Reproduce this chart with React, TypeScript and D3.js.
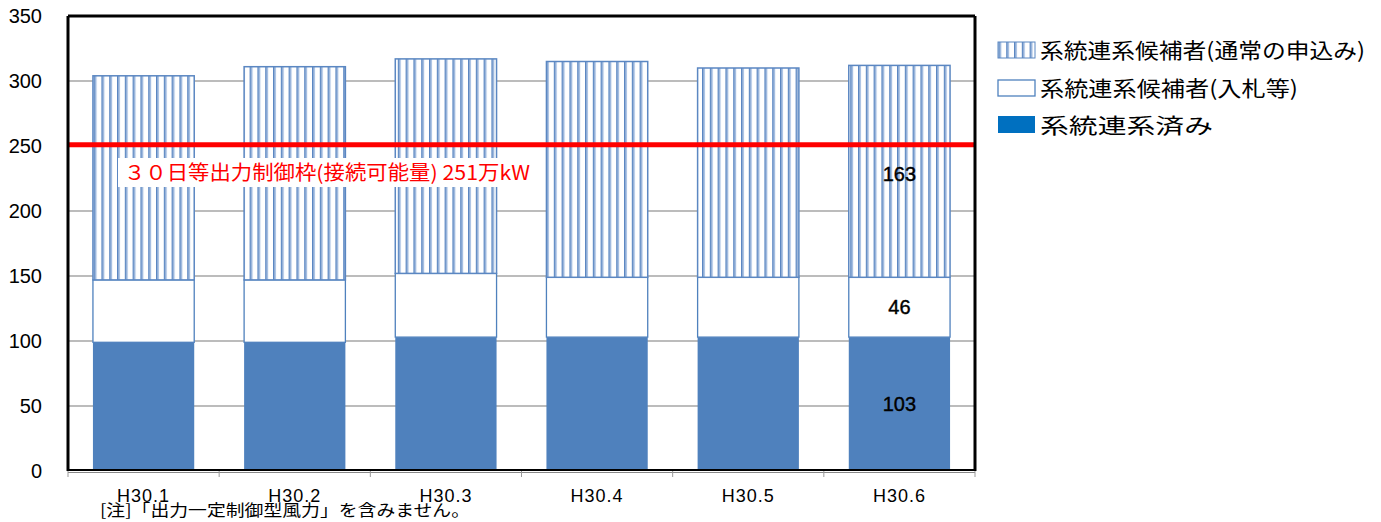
import React from "react";
import * as d3 from "d3";

const categories = ["H30.1", "H30.2", "H30.3", "H30.4", "H30.5", "H30.6"];
const connected = [99, 99, 103, 103, 103, 103];
const bidding = [48, 48, 49, 46, 46, 46];
const normal = [157, 164, 165, 166, 161, 163];
const yTicks = [0, 50, 100, 150, 200, 250, 300, 350];
const limitValue = 251;
const limitLabel = "３０日等出力制御枠(接続可能量)  251万kW";
const legendLabels = ["系統連系候補者(通常の申込み)", "系統連系候補者(入札等)", "系統連系済み"];
const note = "[注]「出力一定制御型風力」を含みません。";

const W = 1381, H = 522;
const left = 68, right = 975, top = 16, bottom = 471;
const jp = "'Noto Sans CJK JP', sans-serif";
const lat = "'Liberation Sans', Arial, sans-serif";

export default function App() {
  const x = d3.scaleBand<string>().domain(categories).range([left, right]).paddingInner(0.33).paddingOuter(0.165);
  const y = d3.scaleLinear().domain([0, 350]).range([bottom, top]);
  const bw = x.bandwidth();
  const step = x.step();
  const lastIdx = categories.length - 1;
  const cx = (x(categories[lastIdx]) as number) + bw / 2;
  const legendWidths = [325, 258, 173];

  return (
    <svg width={W} height={H} style={{ position: "absolute", left: 0, top: 0, background: "#fff" }}>
      <defs>
        <pattern id="vstripe" patternUnits="userSpaceOnUse" width={7.8} height={10}>
          <rect x={0} y={0} width={7.8} height={10} fill="#ffffff" />
          <rect x={0} y={0} width={1.7} height={10} fill="#5b87c2" />
          <rect x={1.7} y={0} width={1.3} height={10} fill="#a9c1e3" />
        </pattern>
      </defs>
      {yTicks.filter(t => t > 0 && t < 350).map(t => (
        <line key={t} x1={left} x2={right} y1={y(t)} y2={y(t)} stroke="#a6a6a6" strokeWidth={1.5} />
      ))}
      {categories.map((c, i) => {
        const x0 = x(c) as number;
        const b0 = y(0), b1 = y(connected[i]), b2 = y(connected[i] + bidding[i]), b3 = y(connected[i] + bidding[i] + normal[i]);
        return (
          <g key={c}>
            <rect x={x0} y={b1} width={bw} height={b0 - b1} fill="#4f81bd" />
            <rect x={x0} y={b2} width={bw} height={b1 - b2} fill="#ffffff" stroke="#4f81bd" strokeWidth={1.3} />
            <rect x={x0} y={b3} width={bw} height={b2 - b3} fill="url(#vstripe)" stroke="#5b87c2" strokeWidth={1.5} />
          </g>
        );
      })}
      <line x1={left} x2={right} y1={y(limitValue)} y2={y(limitValue)} stroke="#ff0000" strokeWidth={5} />
      <rect x={118} y={158} width={414} height={29} fill="#ffffff" />
      <text x={124} y={180} fontFamily={jp} fontSize={20} fill="#ff0000" textLength={406} lengthAdjust="spacingAndGlyphs">{limitLabel}</text>
      <line x1={left} x2={left} y1={top} y2={bottom} stroke="#000" strokeWidth={3} />
      <line x1={left} x2={right} y1={top} y2={top} stroke="#000" strokeWidth={3} />
      <line x1={right} x2={right} y1={top} y2={bottom} stroke="#000" strokeWidth={3} />
      <line x1={left} x2={right} y1={bottom - 1} y2={bottom - 1} stroke="#000" strokeWidth={2} />
      <line x1={left} x2={right} y1={bottom + 1.5} y2={bottom + 1.5} stroke="#888" strokeWidth={1} />
      {d3.range(categories.length + 1).map(i => (
        <line key={i} x1={left + i * step} x2={left + i * step} y1={bottom} y2={bottom + 6} stroke="#999" strokeWidth={1} />
      ))}
      {categories.map(c => (
        <text key={c} x={(x(c) as number) + bw / 2} y={502} textAnchor="middle" fontFamily={lat} fontSize={18} fill="#000" letterSpacing={1}>{c}</text>
      ))}
      {yTicks.map(t => (
        <text key={t} x={42} y={y(t) + 7} textAnchor="end" fontFamily={lat} fontSize={20} fill="#000">{t}</text>
      ))}
      <text x={cx} y={y(connected[lastIdx] / 2) + 7} textAnchor="middle" fontFamily={lat} fontSize={20} fill="#000" stroke="#000" strokeWidth={0.4}>{connected[lastIdx]}</text>
      <text x={cx} y={y(connected[lastIdx] + bidding[lastIdx] / 2) + 7} textAnchor="middle" fontFamily={lat} fontSize={20} fill="#000" stroke="#000" strokeWidth={0.4}>{bidding[lastIdx]}</text>
      <text x={cx} y={181} textAnchor="middle" fontFamily={lat} fontSize={20} fill="#000" stroke="#000" strokeWidth={0.4}>{normal[lastIdx]}</text>
      <text x={100} y={516} fontFamily={jp} fontSize={16} fill="#000" textLength={370} lengthAdjust="spacingAndGlyphs">{note}</text>
      <rect x={998} y={42} width={37} height={16} fill="url(#vstripe)" stroke="#5b87c2" strokeWidth={1} />
      <rect x={998} y={80} width={37} height={16} fill="#fff" stroke="#4f81bd" strokeWidth={1.3} />
      <rect x={998} y={116} width={37} height={17} fill="#0070c0" />
      {legendLabels.map((l, i) => (
        <text key={l} x={1040} y={[58, 96, 133][i]} fontFamily={jp} fontSize={21} fill="#000" textLength={legendWidths[i]} lengthAdjust="spacingAndGlyphs">{l}</text>
      ))}
    </svg>
  );
}
